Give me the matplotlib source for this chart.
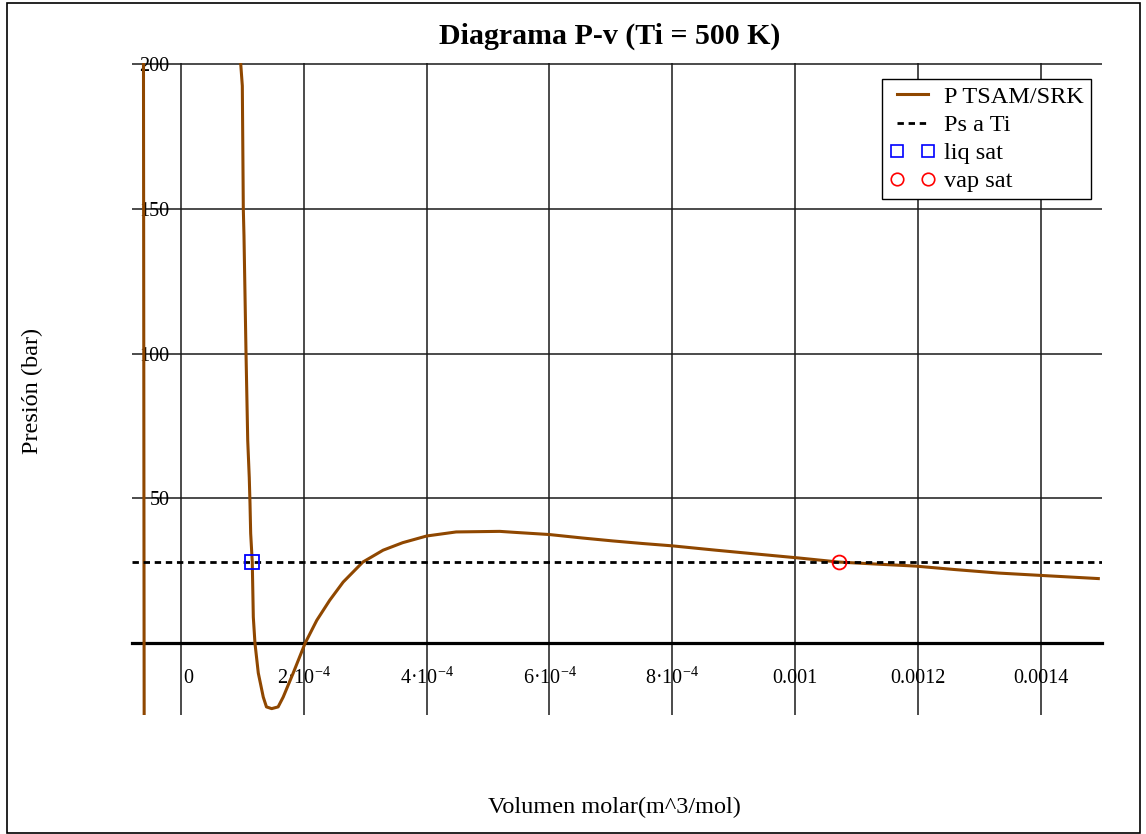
import matplotlib
matplotlib.use('Agg')
import matplotlib.pyplot as plt
from matplotlib.patches import Rectangle
from matplotlib.lines import Line2D
from matplotlib.transforms import ScaledTranslation

plt.rcParams['font.family'] = ['Liberation Serif', 'DejaVu Serif']
plt.rcParams['mathtext.fontset'] = 'custom'
plt.rcParams['mathtext.rm'] = 'Liberation Serif'
plt.rcParams['mathtext.it'] = 'Liberation Serif:italic'
plt.rcParams['mathtext.bf'] = 'Liberation Serif:bold'

title = "Diagrama P-v (Ti = 500 K)"
xlabel = "Volumen molar(m^3/mol)"
ylabel = "Presión (bar)"

# left (negative-volume) branch of the EOS curve
v_left = [-6.13e-5, -6.02e-5]
p_left = [200.0, -25.0]

# main branch of the EOS curve
v_main = [9.71e-5, 9.97e-5, 1.013e-4, 1.024e-4, 1.057e-4, 1.085e-4, 1.11e-4,
          1.122e-4, 1.133e-4, 1.159e-4, 1.176e-4, 1.203e-4, 1.257e-4, 1.338e-4,
          1.39e-4, 1.475e-4, 1.58e-4, 1.663e-4, 1.826e-4, 2.02e-4, 2.21e-4,
          2.42e-4, 2.64e-4, 2.96e-4, 3.29e-4, 3.61e-4, 4.0e-4, 4.48e-4, 5.19e-4,
          5.40e-4, 6.0e-4, 6.54e-4, 7.03e-4, 7.52e-4, 8.0e-4, 8.71e-4, 9.41e-4,
          1.0065e-3, 1.0715e-3, 1.142e-3, 1.197e-3, 1.261e-3, 1.332e-3,
          1.3995e-3, 1.494e-3]
p_main = [200.0, 192.4, 150.0, 140.7, 100.3, 70.0, 57.2,
          48.3, 37.9, 28.0, 9.0, 0.0, -10.3, -18.6,
          -22.0, -22.6, -22.0, -18.6, -10.3, 0.0, 7.9,
          14.8, 21.1, 28.0, 32.1, 34.7, 37.0, 38.4, 38.6,
          38.3, 37.5, 36.3, 35.3, 34.4, 33.6, 32.1, 30.7,
          29.4, 28.0, 27.2, 26.6, 25.4, 24.2,
          23.4, 22.3]

p_sat = 28.0
v_liq = [1.159e-4]
v_vap = [1.0715e-3]

x_ticks = [0, 2e-4, 4e-4, 6e-4, 8e-4, 1e-3, 1.2e-3, 1.4e-3]
x_tick_labels = ['0', '2·10$^{-4}$', '4·10$^{-4}$', '6·10$^{-4}$',
                 '8·10$^{-4}$', '0.001', '0.0012', '0.0014']
y_ticks = [50, 100, 150, 200]
y_tick_labels = ['50', '100', '150', '200']

legend_labels = ['P TSAM/SRK', 'Ps a Ti', 'liq sat', 'vap sat']

W, H = 1146, 834
fig = plt.figure(figsize=(W / 100, H / 100), dpi=100)
ax = fig.add_axes([132 / W, 1 - 715 / H, (1102 - 132) / W, (715 - 63) / H])

brown = '#8f4700'
ax.plot(v_left, p_left, color=brown, lw=2.2, zorder=3)
ax.plot(v_main, p_main, color=brown, lw=2.2, zorder=3)
ax.axhline(p_sat, color='black', lw=2.0, dashes=(2.3, 1.7), zorder=3)
ax.plot(v_liq, [p_sat], ls='none', marker='s', ms=10, mfc='none',
        mec='#0000ff', mew=1.3, zorder=4)
ax.plot(v_vap, [p_sat], ls='none', marker='o', ms=10, mfc='none',
        mec='#ff0000', mew=1.3, zorder=4)

ax.set_xlim(-8e-5, 1.5e-3)
ax.set_ylim(-24.8, 200.3)

for s in ['top', 'right', 'left']:
    ax.spines[s].set_visible(False)
ax.spines['bottom'].set_position(('data', 0))
ax.spines['bottom'].set_linewidth(2.3)
ax.spines['bottom'].set_color('black')

ax.set_xticks(x_ticks)
ax.set_xticklabels(x_tick_labels)
ax.set_yticks(y_ticks)
ax.set_yticklabels(y_tick_labels)
ax.tick_params(axis='x', length=0, pad=29, labelsize=14.5)
ax.tick_params(axis='y', length=0, pad=-27, labelsize=14.5)
for lab in ax.get_xticklabels():
    lab.set_va('baseline')
first = ax.get_xticklabels()[0]
first.set_transform(first.get_transform() + ScaledTranslation(7 / 100, 0, fig.dpi_scale_trans))
ax.grid(True, color='#1a1a1a', lw=1.1)

handles = [Line2D([], [], color=brown, lw=2.2),
           Line2D([], [], color='black', lw=2.0, dashes=(2.3, 1.7)),
           Line2D([], [], ls='none', marker='s', ms=9, mfc='none', mec='#0000ff', mew=1.2),
           Line2D([], [], ls='none', marker='o', ms=9, mfc='none', mec='#ff0000', mew=1.2)]
leg = ax.legend(handles, legend_labels, loc='upper left',
                bbox_to_anchor=(882 / W, 1 - 79 / H), bbox_transform=fig.transFigure,
                borderaxespad=0, borderpad=0.3, handlelength=1.9, handletextpad=0.35,
                labelspacing=0.28, numpoints=2, fontsize=17.5, fancybox=False,
                framealpha=1, edgecolor='black', handleheight=0.6)
leg.get_frame().set_linewidth(1.0)
leg.set_zorder(5)

fig.text(610 / W, 1 - 36 / H, title, ha='center', va='center', fontsize=21.5,
         fontweight='bold')
fig.text(614 / W, 1 - 807 / H, xlabel, ha='center', va='center', fontsize=17.5)
fig.text(32 / W, 1 - 391 / H, ylabel, ha='center', va='center', rotation=90, fontsize=17.5)

fig.patches.append(Rectangle((7 / W, 1 / H), (1140 - 7) / W, (832 - 2) / H,
                             transform=fig.transFigure, fill=False, ec='black', lw=1.2))

fig.savefig('out.png', dpi=100)
